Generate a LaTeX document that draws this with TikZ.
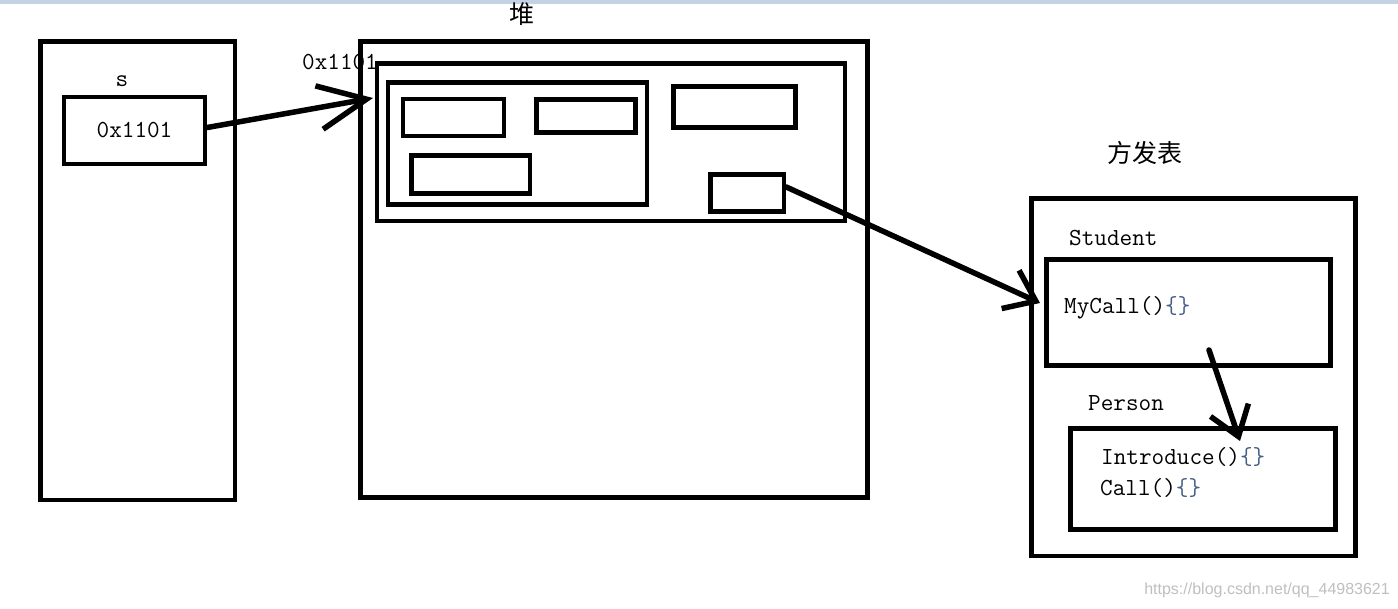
\documentclass[tikz,border=0pt]{standalone}
\usepackage{fontspec}
\newfontfamily\cjk{Noto Sans CJK SC}
\newfontfamily\wmfont{Liberation Sans}
\usetikzlibrary{arrows.meta}
\definecolor{barblue}{RGB}{196,210,228}
\definecolor{bracecol}{RGB}{70,95,135}
\tikzset{
	box/.style={draw, line width=4.6pt, inner sep=0pt},
	code/.style={font=\fontsize{24.5}{27}\ttfamily, inner sep=0pt},
	hanzi/.style={font=\fontsize{25}{28}\cjk, inner sep=0pt},
	ptr/.style={line width=5.5pt, line cap=round}
}
\newcommand{\br}{\textcolor{bracecol}{\{\}}}
\begin{document}
\begin{tikzpicture}[x=1pt,y=-1pt]
\useasboundingbox (0,0) rectangle (1398,608);
\fill[barblue] (0,0) rectangle (1398,3.5);
\node[box, minimum width=194.5pt, minimum height=458.5pt] (stack) at (137.75,270.75) {};
	\node[code] (sname) at (122,81) {s};
	\node[box, code, minimum width=141pt, minimum height=67pt] (sref) at (134.5,130.5) {0x1101};
\node[hanzi] (heaptitle) at (522,14) {堆};
\node[box, minimum width=507pt, minimum height=456pt] (heap) at (614,269.5) {};
	\node[code] (addr) at (340,62) {0x1101};
	\node[box, minimum width=468pt, minimum height=157.5pt] (obj) at (611,142.25) {};
	\node[box, minimum width=259pt, minimum height=122pt] (grp) at (517.5,143.5) {};
	\node[box, minimum width=101pt, minimum height=37pt] (f1) at (453.5,117.5) {};
	\node[box, minimum width=99pt, minimum height=33pt] (f2) at (586,116) {};
	\node[box, minimum width=118.5pt, minimum height=38pt] (f3) at (470.75,174.5) {};
	\node[box, minimum width=122pt, minimum height=41pt] (f4) at (734.5,107) {};
	\node[box, minimum width=73.5pt, minimum height=37pt] (tptr) at (747.25,193) {};
\node[hanzi] (tabtitle) at (1145,153) {方发表};
\node[box, minimum width=324pt, minimum height=357.5pt] (table) at (1193.5,377.25) {};
	\node[code, anchor=west] (stname) at (1069,238) {Student};
	\node[box, minimum width=284pt, minimum height=106pt] (student) at (1188.5,312.5) {};
	\node[code, anchor=west] (mycall) at (1064,308) {MyCall()\br};
	\node[code, anchor=west] (pname) at (1088,403) {Person};
	\node[box, minimum width=265pt, minimum height=101pt] (person) at (1203,479) {};
	\node[code, anchor=west] (intro) at (1101,457) {Introduce()\br};
	\node[code, anchor=west] (call) at (1100,488) {Call()\br};
\node[font=\fontsize{16}{18}\wmfont, text=black!25, anchor=east, inner sep=0pt] (wm) at (1390,590) {https://blog.csdn.net/qq\_44983621};
\coordinate (tip1) at (373,98);
\coordinate (tip2) at (1040,303);
\coordinate (from3) at (1209,350);
\coordinate (tip3) at (1240,441);
	\draw[ptr, -{Straight Barb[length=48pt, width=44pt]}] (sref.east) ++(0,-3) -- (tip1);
	\draw[ptr, -{Straight Barb[length=28pt, width=42pt]}] (tptr.east) ++(0,-6) -- (tip2);
	\draw[ptr, -{Straight Barb[length=28pt, width=40pt]}] (from3) -- (tip3);
\end{tikzpicture}
\end{document}
